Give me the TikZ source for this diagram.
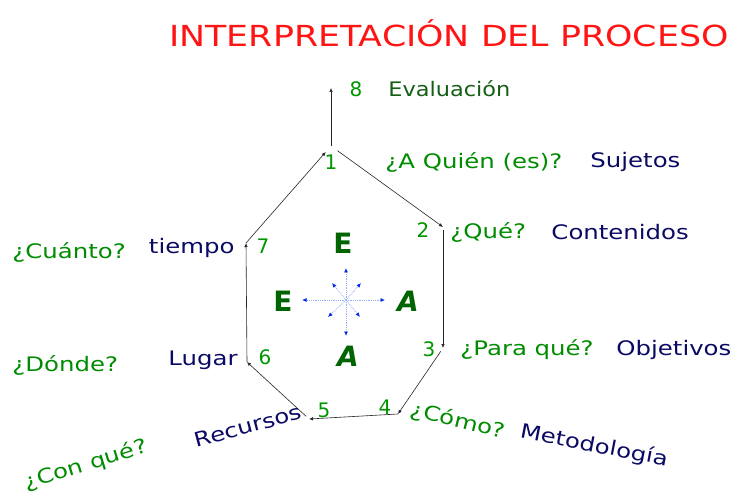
\documentclass[tikz,border=0pt]{standalone}
\usepackage{fontspec}
\setmainfont{DejaVu Sans}
\usetikzlibrary{arrows.meta,positioning}
\definecolor{titred}{RGB}{255,20,20}
\definecolor{qgreen}{RGB}{0,140,0}
\definecolor{numgreen}{RGB}{0,150,0}
\definecolor{evgreen}{RGB}{20,95,20}
\definecolor{bigreen}{RGB}{0,100,0}
\definecolor{navy}{RGB}{10,10,100}
\definecolor{stblue}{RGB}{0,40,230}
\definecolor{stline}{RGB}{150,175,245}
\tikzset{
  ttl/.style={font=\fontsize{29}{32}\selectfont, text=titred, inner sep=0pt, xscale=1.2},
  num/.style={font=\fontsize{20}{22}\selectfont, text=numgreen, inner sep=1pt},
  qst/.style={font=\fontsize{20}{22}\selectfont, text=qgreen, inner sep=1pt, xscale=1.22},
  ans/.style={font=\fontsize{20}{22}\selectfont, text=navy, inner sep=1pt, xscale=1.22},
  bigl/.style={font=\fontsize{28}{30}\selectfont\bfseries, text=bigreen, inner sep=0pt},
  ar/.style={-{Latex[length=4pt,width=3.5pt]}, semithick, draw=black!85},
  rad/.style={-{Latex[length=4.5pt,width=4pt,color=stblue]}, densely dotted, draw=stline, thick},
}

\begin{document}
\begin{tikzpicture}[x=1pt,y=-1pt]
\useasboundingbox (0,0) rectangle (742,497);

% ============================ title =====================================
\node[ttl] (title) at (449,33) {INTERPRETACIÓN DEL PROCESO};

% ============================ vertices ==================================
\coordinate (p1) at (331,146);
\coordinate (p2) at (443,227);
\coordinate (p3) at (443,348);
\coordinate (p4) at (398,414);
\coordinate (p5) at (309,419);
\coordinate (p6) at (247,362);
\coordinate (p7) at (246,243);
\coordinate (p8) at (331,88);

% ============================ cycle =====================================
\draw[ar, shorten <=8pt] (p1) -- (p2);
\draw[ar, shorten <=3pt] (p2) -- (p3);
\draw[ar, shorten <=4pt] (p3) -- (p4);
\draw[ar] (p4) -- (p5);
\draw[ar, shorten <=4pt] (p5) -- (p6);
\draw[ar] (p6) -- (p7);
\draw[ar, shorten >=8pt] (p7) -- (p1);
\draw[ar] (p1) -- (p8);

% ============================ numbers ===================================
\node[num] (n1) at (331,162) {1};
\node[num] (n2) at (423,230) {2};
\node[num] (n3) at (429,349) {3};
\node[num] (n4) at (385,407) {4};
\node[num] (n5) at (324,410) {5};
\node[num] (n6) at (265,357) {6};
\node[num] (n7) at (263,246) {7};
\node[num] (n8) at (356,89) {8};

% ============================ labels right ==============================
\node[qst, anchor=west, text=evgreen, xscale=0.92] (eval) at (387,89) {Evaluación};
\node[qst, anchor=west] (q1) at (384,162) {¿A Quién (es)?};
\node[ans, anchor=west] (a1) at (589,162) {Sujetos};
\node[qst, anchor=west] (q2) at (449,232) {¿Qué?};
\node[ans, anchor=west] (a2) at (550,232) {Contenidos};
\node[qst, anchor=west] (q3) at (459,350) {¿Para qué?};
\node[ans, anchor=west] (a3) at (615,350) {Objetivos};

% ============================ labels left ===============================
\node[ans, anchor=east] (a7) at (236,248) {tiempo};
\node[qst, anchor=west] (q7) at (11,252) {¿Cuánto?};
\node[ans, anchor=east] (a6) at (239,360) {Lugar};
\node[qst, anchor=west] (q6) at (11,365) {¿Dónde?};

% ============================ labels bottom =============================
\node[rotate=-14, qst] (q4) at (458,421) {¿Cómo?};
\node[rotate=-11, ans] (a4) at (594,446) {Metodología};
\node[rotate=15, ans] (a5) at (248,426) {Recursos};
\node[rotate=17, qst] (q5) at (86,465) {¿Con qué?};

% ============================ centre ====================================
\coordinate (c) at (346,300);
\node[bigl] (eTop) at (343,243) {E};
\node[bigl] (eLeft) at (283,301) {E};
\node[bigl, font=\fontsize{28}{30}\selectfont\bfseries\itshape] (aRight) at (408,301) {A};
\node[bigl, font=\fontsize{28}{30}\selectfont\bfseries\itshape] (aBot) at (348,356) {A};
\foreach \dx/\dy in {-44/0, 39/0, 0/-32, 0/36, -14/-17, 15/-17, -18/17, 14/17}
  \draw[rad] (c) -- ++(\dx,\dy);

\end{tikzpicture}
\end{document}
